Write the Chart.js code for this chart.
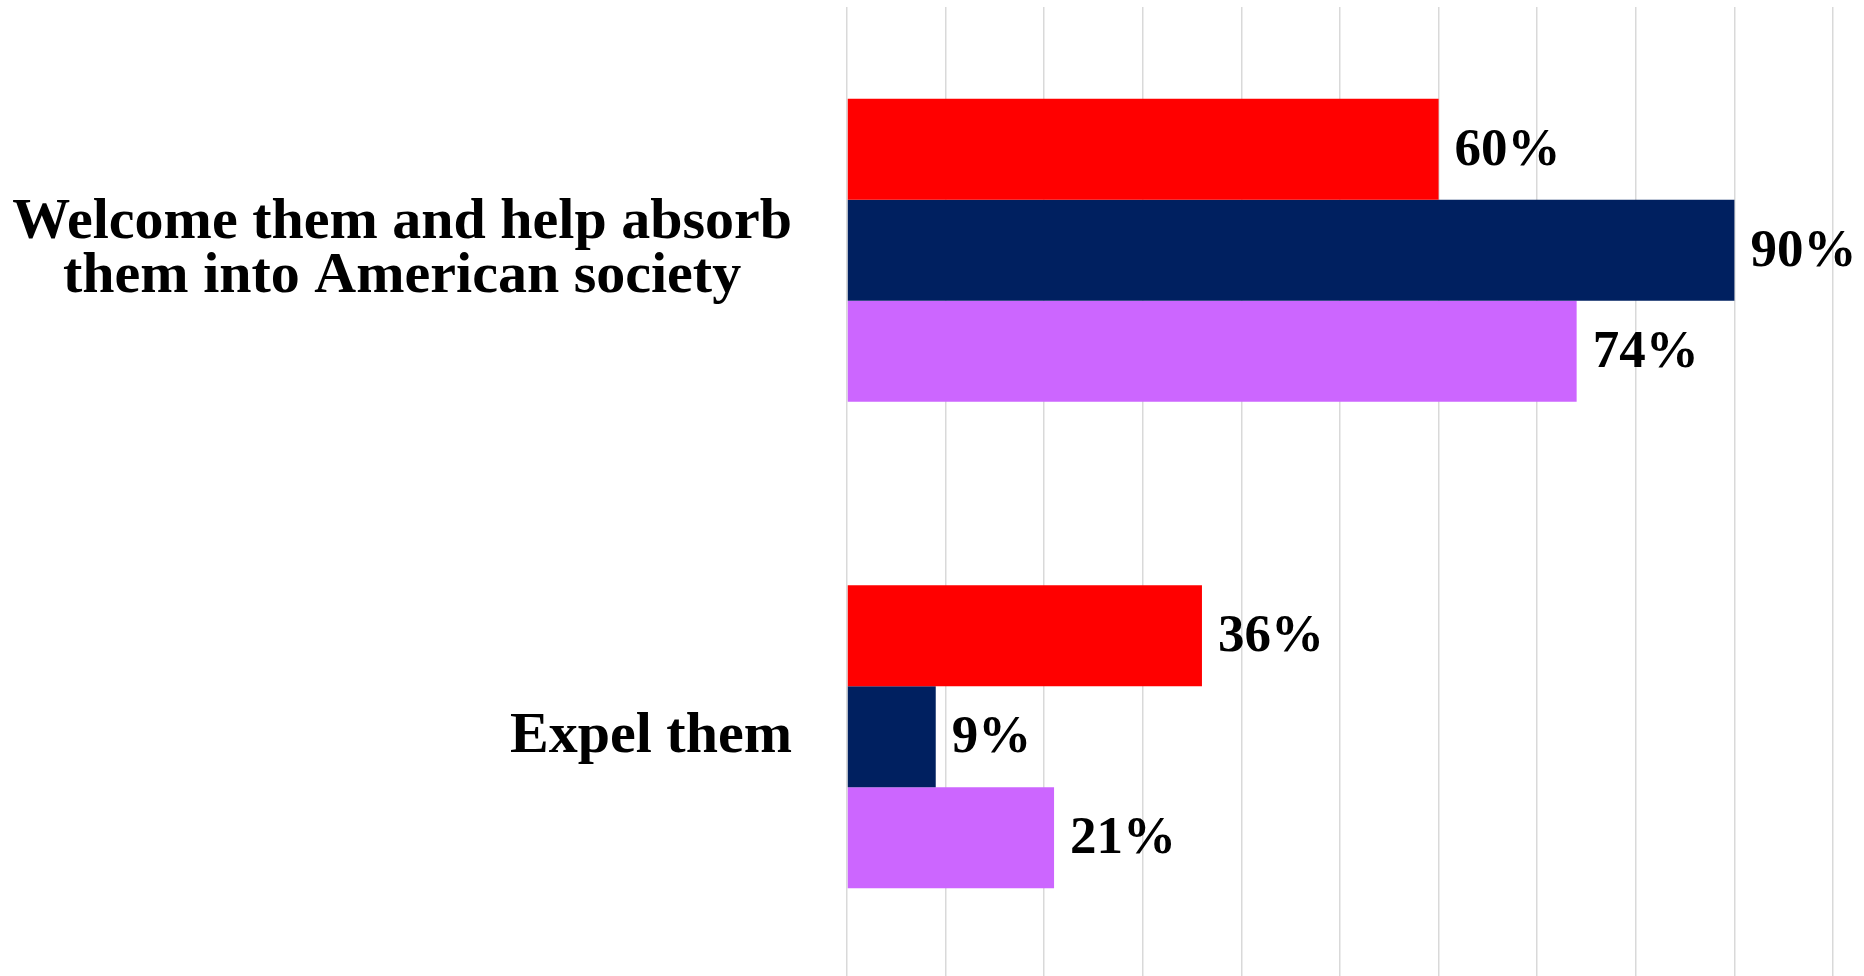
<!DOCTYPE html>
<html>
<head>
<meta charset="utf-8">
<script src="https://cdn.jsdelivr.net/npm/chart.js@4"></script>
<style>
  html, body { margin: 0; padding: 0; background: #fff; overflow: hidden; }
  #wrap { width: 1864px; height: 980px; position: relative; }
</style>
</head>
<body>
<div id="wrap"><canvas id="pollChart"></canvas></div>
<script>
// --- data ---
var categories = [
    ['Welcome them and help absorb', 'them into American society'],
    ['Expel them']
];
var seriesNames = ['Republicans', 'Democrats', 'Independents'];
var republicans = [60, 36];
var democrats = [90, 9];
var independents = [74, 21];
var xTicks = [0, 10, 20, 30, 40, 50, 60, 70, 80, 90, 100];

var colors = ['#ff0000', '#002060', '#cc66ff'];
var values = [republicans, democrats, independents];

// value labels at the end of each bar
var barLabels = {
    id: 'barLabels',
    afterDatasetsDraw: function (chart) {
        var ctx = chart.ctx;
        ctx.save();
        ctx.font = 'bold 53px "Liberation Serif"';
        ctx.fillStyle = '#000';
        ctx.textAlign = 'left';
        ctx.textBaseline = 'middle';
        chart.data.datasets.forEach(function (ds, i) {
            chart.getDatasetMeta(i).data.forEach(function (bar, j) {
                ctx.fillText(ds.data[j] + '%', bar.x + 16, bar.y + 2);
            });
        });
        ctx.restore();
    }
};

// category labels: block right aligned, lines centred inside the block
var catLabels = {
    id: 'catLabels',
    afterDraw: function (chart) {
        var ctx = chart.ctx;
        var yScale = chart.scales.y;
        var right = chart.chartArea.left - 55;
        var lineH = 54;
        ctx.save();
        ctx.font = 'bold 58px "Liberation Serif"';
        ctx.fillStyle = '#000';
        ctx.textAlign = 'center';
        ctx.textBaseline = 'middle';
        chart.data.labels.forEach(function (lines, i) {
            var y = yScale.getPixelForTick(i);
            var w = Math.max.apply(null, lines.map(function (s) { return ctx.measureText(s).width; }));
            var cx = right - w / 2;
            var y0 = y - (lines.length - 1) * lineH / 2;
            lines.forEach(function (s, k) {
                ctx.fillText(s, cx, y0 + k * lineH);
            });
        });
        ctx.restore();
    }
};

var ctx = document.getElementById('pollChart').getContext('2d');
new Chart(ctx, {
    type: 'bar',
    data: {
        labels: categories,
        datasets: seriesNames.map(function (name, i) {
            return {
                label: name,
                data: values[i],
                backgroundColor: colors[i],
                borderWidth: 0,
                barPercentage: 1,
                categoryPercentage: 0.623
            };
        })
    },
    options: {
        indexAxis: 'y',
        responsive: true,
        maintainAspectRatio: false,
        animation: false,
        layout: { padding: { top: 7, right: 31, bottom: 0, left: 0 } },
        plugins: {
            legend: { display: false },
            tooltip: { enabled: false }
        },
        scales: {
            x: {
                min: 0,
                max: 100,
                afterBuildTicks: function (scale) {
                    scale.ticks = xTicks.map(function (v) { return { value: v }; });
                },
                ticks: { display: false },
                grid: { color: '#d9d9d9', lineWidth: 1.5, drawTicks: false },
                border: { display: false }
            },
            y: {
                grid: { display: false },
                border: { display: false },
                ticks: { display: false },
                afterFit: function (scale) {
                    scale.width = 847;
                    scale.paddingTop = 0;
                    scale.paddingBottom = 0;
                }
            }
        }
    },
    plugins: [barLabels, catLabels]
});
</script>
</body>
</html>
